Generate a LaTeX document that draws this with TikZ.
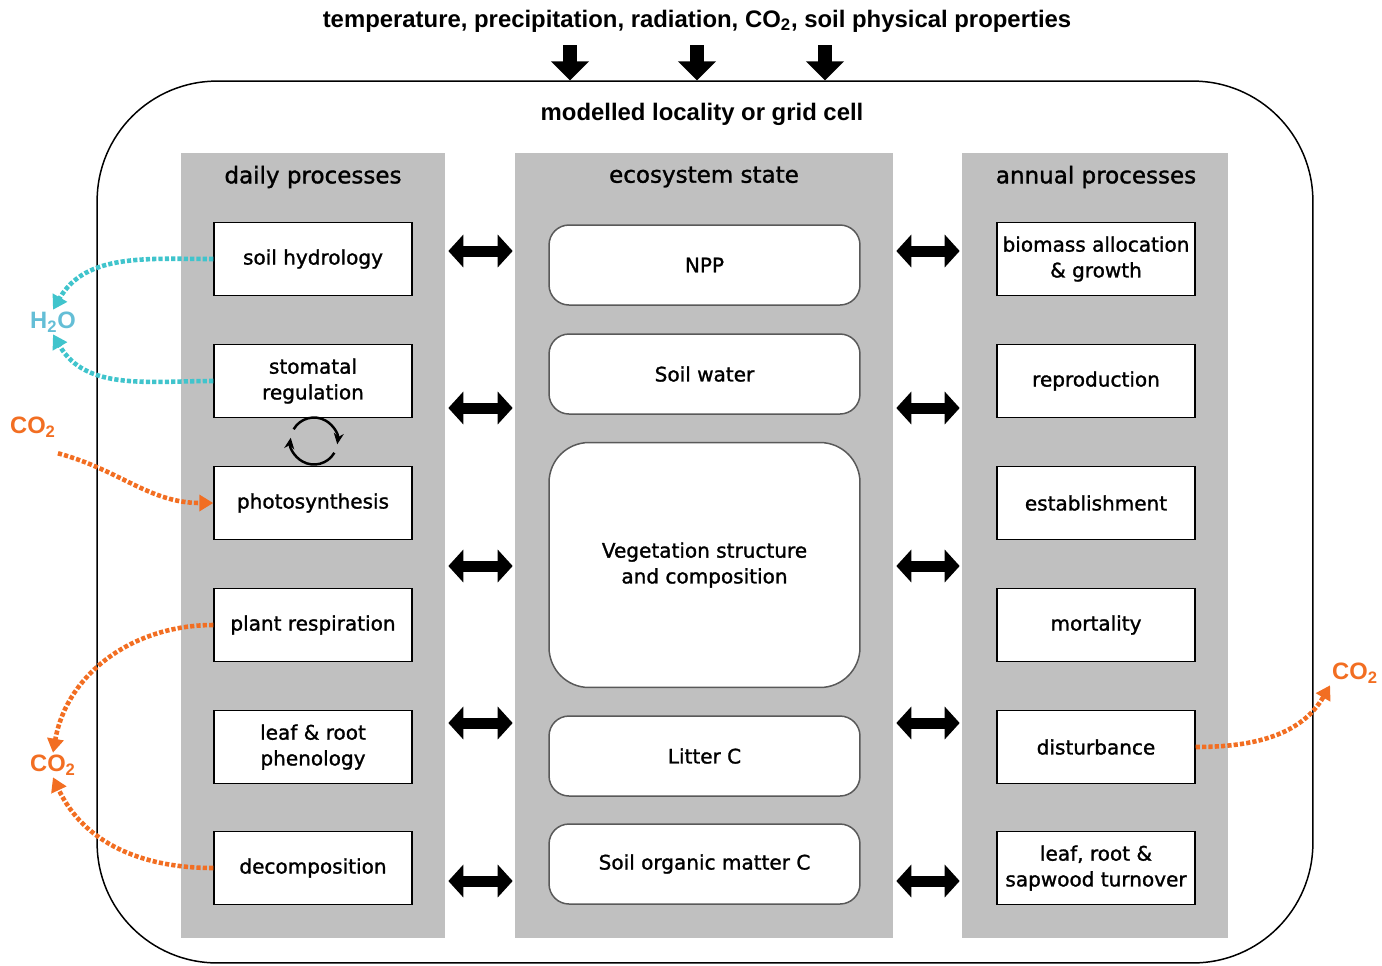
\documentclass[tikz,border=0pt]{standalone}
\usepackage{fontspec}
\setmainfont{DejaVu Sans}
\newfontfamily\titlefont{Liberation Sans}
\newfontfamily\boxfont[FakeBold=1.3]{DejaVu Sans}
\usetikzlibrary{arrows.meta,positioning,calc}
\definecolor{colgray}{RGB}{192,192,192}
\definecolor{watercol}{RGB}{64,196,204}
\definecolor{h2ocol}{RGB}{100,190,214}
\definecolor{carboncol}{RGB}{242,110,34}

\begin{document}
\begin{tikzpicture}[x=0.02cm,y=-0.02cm,>=Stealth,
   column/.style={fill=colgray,inner sep=0pt,minimum height=15.7cm},
   colhead/.style={font=\boxfont\fontsize{13.1}{16}\selectfont},
   proc/.style={draw,line width=0.85pt,fill=white,inner sep=0pt,minimum width=3.96cm,minimum height=1.46cm,
                align=center,font=\boxfont\fontsize{11.4}{14.7}\selectfont},
   pool/.style={draw=black!65,line width=0.85pt,fill=white,rounded corners=0.4cm,inner sep=0pt,
                minimum width=6.22cm,minimum height=1.6cm,align=center,font=\boxfont\fontsize{11.4}{14.7}\selectfont},
   gas/.style={font=\titlefont\bfseries\fontsize{13.5}{15}\selectfont,inner sep=1pt},
   flux/.style={line width=2.6pt,dash pattern=on 2.4pt off 1.2pt,-{Triangle[length=0.28cm,width=0.32cm]}},
   swap/.style={line width=0.22cm,shorten <=0.06cm,shorten >=0.04cm,
                {Triangle[length=0.3cm,width=0.64cm]}-{Triangle[length=0.3cm,width=0.64cm]}},
   driver/.style={line width=0.28cm,-{Triangle[length=0.38cm,width=0.74cm]}},
   cycle/.style={line width=1.4pt,-{Stealth[length=0.22cm,width=0.2cm]}}]
  \useasboundingbox (0,0) rectangle (1382,965);

  % drivers and grid cell
  \node[font=\titlefont\bfseries\fontsize{13.6}{16}\selectfont] (drivers) at (697,21)
     {temperature, precipitation, radiation, CO\textsubscript{2}, soil physical properties};
  \node[draw,line width=0.85pt,rounded corners=2.4cm,minimum width=24.32cm,minimum height=17.64cm] (cell) at (705,522) {};
  \node[font=\titlefont\bfseries\fontsize{13.6}{16}\selectfont] (cellname) at (702,114) {modelled locality or grid cell};
  \foreach \xx in {570,697,825}
    \draw[driver] (drivers.south -| \xx,0) ++(0,7) -- (cell.north -| \xx,0);

  % columns
  \node[column,minimum width=5.28cm] (daily)  at (313,545.5) {};
  \node[column,minimum width=7.56cm] (state)  at (704,545.5) {};
  \node[column,minimum width=5.32cm] (annual) at (1095,545.5) {};
  \node[colhead] at (313,177)  {daily processes};
  \node[colhead] at (704,177)  {ecosystem state};
  \node[colhead] at (1096,177) {annual processes};

  % daily processes
  \node[proc] (hydro)   at (313,259) {soil hydrology};
  \node[proc] (stomata) at (313,381) {stomatal\\regulation};
  \node[proc] (photo)   at (313,503) {photosynthesis};
  \node[proc] (resp)    at (313,625) {plant respiration};
  \node[proc] (pheno)   at (313,747) {leaf \& root\\phenology};
  \node[proc] (decomp)  at (313,868) {decomposition};

  % ecosystem state
  \node[pool] (npp)    at (704.5,265) {NPP};
  \node[pool] (soilw)  at (704.5,374) {Soil water};
  \node[pool,minimum height=4.9cm,rounded corners=0.8cm] (veg) at (704.5,565) {Vegetation structure\\and composition};
  \node[pool] (litter) at (704.5,756) {Litter C};
  \node[pool] (som)    at (704.5,864) {Soil organic matter C};

  % annual processes
  \node[proc] (alloc)    at (1096,259) {biomass allocation\\\& growth};
  \node[proc] (repro)    at (1096,381) {reproduction};
  \node[proc] (estab)    at (1096,503) {establishment};
  \node[proc] (mort)     at (1096,625) {mortality};
  \node[proc] (dist)     at (1096,747) {disturbance};
  \node[proc] (turnover) at (1096,868) {leaf, root \&\\sapwood turnover};

  % exchange between columns
  \foreach \yy in {251,408,566,723,881} {
    \draw[swap] (daily.east |- 0,\yy) -- (state.west |- 0,\yy);
    \draw[swap] (state.east |- 0,\yy) -- (annual.west |- 0,\yy);
  }

  % stomata <-> photosynthesis
  \coordinate (cyc) at (314,441);
  \draw[cycle] ([shift={(150:0.47cm)}]cyc) arc[start angle=150,end angle=-8,radius=0.47cm];
  \draw[cycle] ([shift={(-30:0.47cm)}]cyc) arc[start angle=-30,end angle=-188,radius=0.47cm];

  % gas fluxes
  \node[gas,text=h2ocol]    (h2o)  at (53,322)   {H\textsubscript{2}O};
  \node[gas,text=carboncol] (co2a) at (33,427)   {CO\textsubscript{2}};
  \node[gas,text=carboncol] (co2b) at (53,765)   {CO\textsubscript{2}};
  \node[gas,text=carboncol] (co2c) at (1355,673) {CO\textsubscript{2}};
  \draw[flux,watercol] (hydro.west) to[out=180,in=60] (h2o.north);
  \draw[flux,watercol] (stomata.west) to[out=180,in=-60] (h2o.south);
  \draw[flux,carboncol] (co2a.south east) ++(0,14) to[out=-15,in=180] (photo.west);
  \draw[flux,carboncol] (resp.west) to[out=180,in=80] (co2b.north);
  \draw[flux,carboncol] (decomp.west) to[out=180,in=-65] (co2b.south);
  \draw[flux,carboncol] (dist.east) to[out=0,in=-120] (co2c.south west);
\end{tikzpicture}
\end{document}
